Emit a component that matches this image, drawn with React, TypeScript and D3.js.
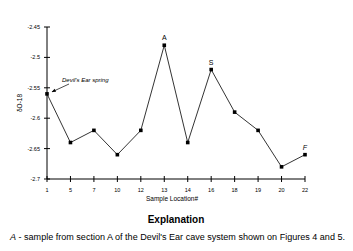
import React from "react";
import * as d3 from "d3";

const categories = ["1", "5", "7", "10", "12", "13", "14", "16", "18", "19", "20", "22"];
const values = [-2.56, -2.64, -2.62, -2.66, -2.62, -2.48, -2.64, -2.52, -2.59, -2.62, -2.68, -2.66];
const yTicks = [-2.45, -2.5, -2.55, -2.6, -2.65, -2.7];
const pointLabels = [
  { cat: "13", text: "A" },
  { cat: "16", text: "S" },
  { cat: "22", text: "F" },
];

export default function App() {
  const W = 353, H = 251;
  const x = d3.scalePoint<string>().domain(categories).range([47, 305]);
  const y = d3.scaleLinear().domain([-2.7, -2.45]).range([179, 27]);
  const line = d3.line<number>().x((_, i) => x(categories[i])!).y((d) => y(d));
  const font = "Liberation Sans, Arial, sans-serif";
  const p0x = x(categories[0])!, p0y = y(values[0]);
  return (
    <svg width={W} height={H} style={{ position: "absolute", left: 0, top: 0, background: "#fff" }} fontFamily={font}>
      <defs>
        <marker id="ah" viewBox="0 0 10 10" refX="9" refY="5" markerWidth="6" markerHeight="6" orient="auto">
          <path d="M0,1 L10,5 L0,9 z" fill="#000" />
        </marker>
      </defs>
      {/* y axis */}
      <line x1={47} x2={47} y1={y(-2.45)} y2={y(-2.7)} stroke="#000" strokeWidth={1} />
      {yTicks.map((t) => (
        <g key={t}>
          <line x1={44} x2={50} y1={y(t)} y2={y(t)} stroke="#000" />
          <text x={40} y={y(t)} dy="0.35em" textAnchor="end" fontSize={5.5}>{String(t)}</text>
        </g>
      ))}
      {/* x axis */}
      <line x1={47} x2={305} y1={179} y2={179} stroke="#000" />
      {categories.map((c) => (
        <g key={c}>
          <line x1={x(c)!} x2={x(c)!} y1={176} y2={182} stroke="#000" />
          <text x={x(c)!} y={192} textAnchor="middle" fontSize={5.5}>{c}</text>
        </g>
      ))}
      <text x={172} y={201} textAnchor="middle" fontSize={6.5}>Sample Location#</text>
      <text transform={`translate(22,${y(-2.575)}) rotate(-90)`} textAnchor="middle" fontSize={6.5}>δO-18</text>
      {/* line */}
      <path d={line(values)!} fill="none" stroke="#000" strokeWidth={0.8} />
      {values.map((v, i) => (
        <rect key={i} x={x(categories[i])! - 1.8} y={y(v) - 1.8} width={3.6} height={3.6} fill="#000" />
      ))}
      {pointLabels.map((p) => {
        const i = categories.indexOf(p.cat);
        return (
          <text key={p.cat} x={x(p.cat)!} y={y(values[i]) - 5} textAnchor="middle" fontSize={7} fontStyle={p.text === "F" ? "italic" : "normal"}>{p.text}</text>
        );
      })}
      {/* annotation */}
      <text x={62} y={82} fontSize={6} fontStyle="italic">Devil's Ear spring</text>
      <line x1={69} x2={p0x + 5} y1={84} y2={p0y - 2} stroke="#000" strokeWidth={0.7} markerEnd="url(#ah)" />
      {/* explanation */}
      <text x={176} y={223} textAnchor="middle" fontSize={10} fontWeight="bold">Explanation</text>
      <text x={10} y={240} fontSize={8.5} textLength={335} lengthAdjust="spacingAndGlyphs">
        <tspan fontStyle="italic">A</tspan> - sample from section A of the Devil's Ear cave system shown on Figures 4 and 5.
      </text>
    </svg>
  );
}
